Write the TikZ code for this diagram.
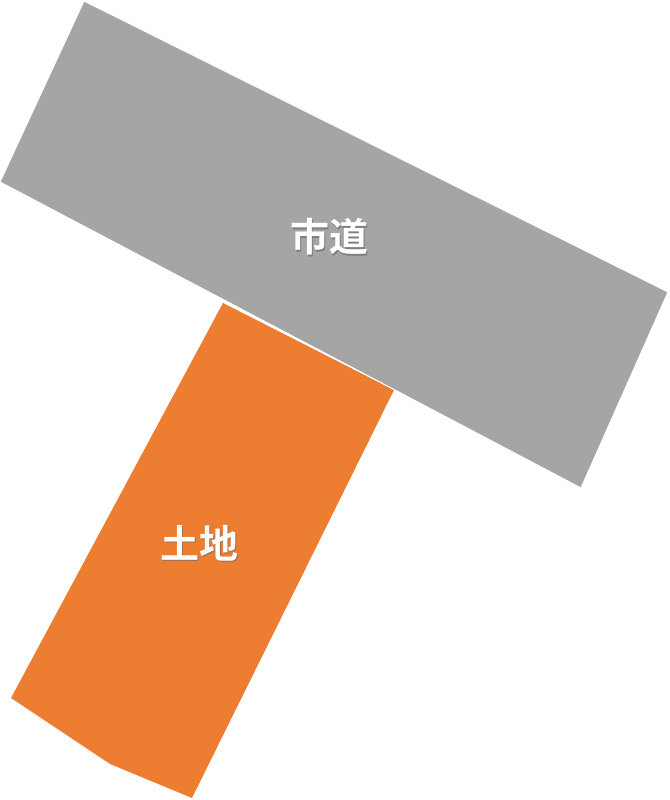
\documentclass[tikz,border=0pt]{standalone}
\usepackage{fontspec}
\newfontfamily\cjk{Noto Sans CJK JP Bold}
\definecolor{roadgray}{RGB}{165,165,165}
\definecolor{landorange}{RGB}{237,125,49}
\tikzset{
  lbl/.style={text=white, font=\cjk\fontsize{39}{44}\selectfont, inner sep=0pt},
  shd/.style={text=black!60, opacity=0.6, font=\cjk\fontsize{39}{44}\selectfont, inner sep=0pt}
}
\begin{document}
\begin{tikzpicture}[x=1pt,y=1pt]
\useasboundingbox (0,0) rectangle (669,800);
% land
\fill[landorange] (223,497) -- (394,410) -- (192,2) -- (110,36) -- (11,102) -- cycle;
% road
\filldraw[fill=roadgray, draw=white, line width=1pt] (84,799) -- (668,508) -- (581,312) -- (0,618) -- cycle;
\node[shd] (roadshadow) at (330.5,561.5) {市道};
\node[lbl] (road) at (329,563) {市道};
\node[shd] (landshadow) at (200.5,255.5) {土地};
\node[lbl] (land) at (199,257) {土地};
\end{tikzpicture}
\end{document}
